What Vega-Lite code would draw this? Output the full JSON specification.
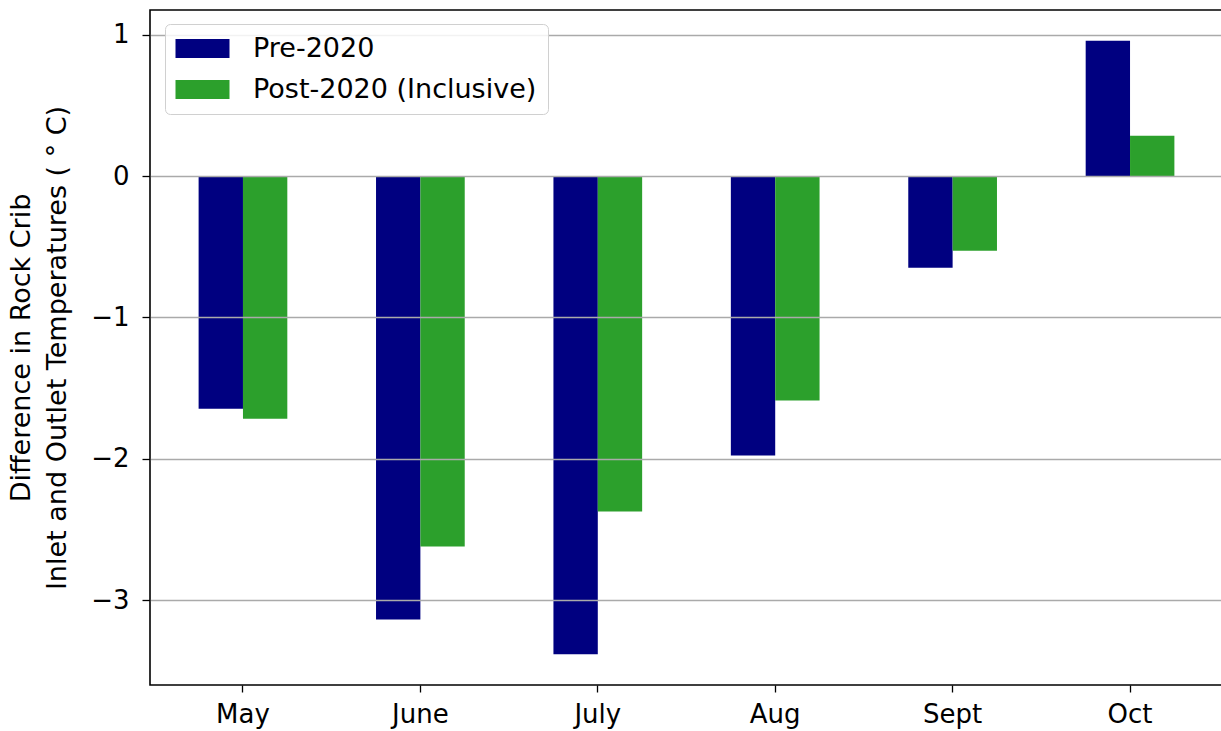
{
  "$schema": "https://vega.github.io/schema/vega-lite/v6.json",
  "width": 1073,
  "height": 675,
  "autosize": {"type": "none"},
  "padding": {"left": 150, "top": 10, "right": 0, "bottom": 46},
  "background": "white",
  "config": {
    "font": "DejaVu Sans",
    "view": {"stroke": "#000000", "strokeWidth": 1.6},
    "axis": {"labelColor": "#000000", "titleColor": "#000000", "tickColor": "#000000", "labelFont": "DejaVu Sans", "titleFont": "DejaVu Sans"}
  },
  "data": {
    "values": [
      {"month": "May", "period": "Pre-2020", "diff": -1.645},
      {"month": "May", "period": "Post-2020 (Inclusive)", "diff": -1.716},
      {"month": "June", "period": "Pre-2020", "diff": -3.137},
      {"month": "June", "period": "Post-2020 (Inclusive)", "diff": -2.62},
      {"month": "July", "period": "Pre-2020", "diff": -3.383},
      {"month": "July", "period": "Post-2020 (Inclusive)", "diff": -2.372},
      {"month": "Aug", "period": "Pre-2020", "diff": -1.976},
      {"month": "Aug", "period": "Post-2020 (Inclusive)", "diff": -1.588},
      {"month": "Sept", "period": "Pre-2020", "diff": -0.648},
      {"month": "Sept", "period": "Post-2020 (Inclusive)", "diff": -0.528},
      {"month": "Oct", "period": "Pre-2020", "diff": 0.958},
      {"month": "Oct", "period": "Post-2020 (Inclusive)", "diff": 0.285}
    ]
  },
  "mark": {"type": "bar"},
  "encoding": {
    "x": {
      "field": "month",
      "type": "nominal",
      "sort": ["May", "June", "July", "Aug", "Sept", "Oct"],
      "scale": {"paddingInner": 0.5, "paddingOuter": 0.274},
      "axis": {"title": null, "labelAngle": 0, "domain": false, "grid": false, "ticks": true, "tickSize": 7, "tickWidth": 1.3, "labelFontSize": 26, "labelPadding": 9}
    },
    "xOffset": {
      "field": "period",
      "type": "nominal",
      "sort": ["Pre-2020", "Post-2020 (Inclusive)"],
      "scale": {"paddingInner": 0, "paddingOuter": 0}
    },
    "y": {
      "field": "diff",
      "type": "quantitative",
      "scale": {"domain": [-3.6, 1.175], "nice": false, "zero": false},
      "axis": {
        "values": [-3, -2, -1, 0, 1],
        "title": ["Difference in Rock Crib", "Inlet and Outlet Temperatures ( ° C)"],
        "titleFontSize": 27,
        "titleFontWeight": "normal",
        "titleLineHeight": 36,
        "titlePadding": 19,
        "domain": false,
        "grid": true,
        "gridColor": "#aaaaaa",
        "gridWidth": 1.3,
        "tickSize": 8,
        "tickWidth": 1.3,
        "labelFontSize": 26,
        "labelPadding": 13,
        "zindex": 1
      }
    },
    "color": {
      "field": "period",
      "type": "nominal",
      "sort": ["Pre-2020", "Post-2020 (Inclusive)"],
      "scale": {"domain": ["Pre-2020", "Post-2020 (Inclusive)"], "range": ["#000080", "#2ca02c"]},
      "legend": {
        "title": null,
        "orient": "none",
        "legendX": 15,
        "legendY": 14,
        "padding": 11,
        "fillColor": "rgba(255,255,255,0.85)",
        "strokeColor": "#d0d0d0",
        "cornerRadius": 5,
        "symbolType": "M-2,-0.7L2,-0.7L2,0.7L-2,0.7Z",
        "symbolSize": 729,
        "symbolStrokeWidth": 0,
        "symbolOpacity": 1,
        "symbolOffset": 13,
        "labelOffset": 37,
        "labelFontSize": 27,
        "labelLimit": 0,
        "labelColor": "#000000",
        "rowPadding": 13,
        "zindex": 2
      }
    }
  }
}
